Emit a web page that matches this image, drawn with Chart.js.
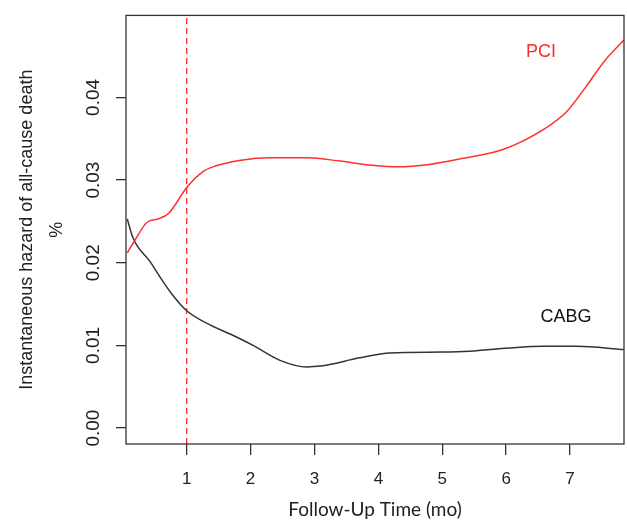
<!DOCTYPE html>
<html>
<head>
<meta charset="utf-8">
<script src="https://cdn.jsdelivr.net/npm/chart.js@4"></script>
<style>
    html, body { margin: 0; padding: 0; background: #fff; }
    #wrap { width: 627px; height: 523px; }
</style>
</head>
<body>
<div id="wrap"><canvas id="hazardChart"></canvas></div>
<script>
// Instantaneous hazard of all-cause death, PCI vs CABG
// values

const pciTime = [0.07, 0.18, 0.38, 0.55, 0.72, 1.0, 1.25, 1.45, 1.85, 2.3, 2.9, 3.4, 3.9, 4.3, 4.8, 5.3, 5.95, 6.6, 6.95, 7.25, 7.55, 7.84];
const pciHazard = [0.0212, 0.0226, 0.0249, 0.0253, 0.0260, 0.0291, 0.0310, 0.0317, 0.0324, 0.0327, 0.0327, 0.0323, 0.0318, 0.0316, 0.0319, 0.0326, 0.0337, 0.0362, 0.0383, 0.0413, 0.0445, 0.0469];

const cabgTime = [0.07, 0.16, 0.43, 0.58, 0.77, 1.0, 1.31, 1.73, 2.04, 2.46, 2.88, 3.09, 3.71, 4.18, 5.0, 5.43, 6.05, 6.6, 7.1, 7.84];
const cabgHazard = [0.0253, 0.0230, 0.0201, 0.0183, 0.0162, 0.0142, 0.0127, 0.0112, 0.0100, 0.0082, 0.0074, 0.0075, 0.0085, 0.0091, 0.0092, 0.0093, 0.0097, 0.0099, 0.0099, 0.0095];

const xTicks = [1, 2, 3, 4, 5, 6, 7];
const yTicks = [0.00, 0.01, 0.02, 0.03, 0.04];
const xRange = [0.05, 7.845];
const yRange = [-0.00192, 0.04992];
const cutoffTime = 1;

// text labels next to the curves (data coordinates)
const curveLabels = [
    { text: 'PCI', x: 6.545, y: 0.0455, color: '#ff2a2a' },
    { text: 'CABG', x: 6.936, y: 0.01345, color: '#111111' }
];

const toPoints = (xs, ys) => xs.map((x, i) => ({ x: x, y: ys[i] }));

// box around plot + curve labels
const boxPlugin = {
    id: 'boxPlugin',
    afterDraw(chart) {
        const { ctx, chartArea, scales } = chart;
        ctx.save();
        ctx.strokeStyle = '#333';
        ctx.lineWidth = 1.3;
        ctx.strokeRect(chartArea.left, chartArea.top, chartArea.right - chartArea.left, chartArea.bottom - chartArea.top);

        ctx.font = '18px "Liberation Sans", Arial, sans-serif';
        ctx.textAlign = 'center';
        ctx.textBaseline = 'middle';
        curveLabels.forEach(l => {
            ctx.fillStyle = l.color;
            ctx.fillText(l.text, scales.x.getPixelForValue(l.x), scales.y.getPixelForValue(l.y));
        });
        ctx.restore();
    }
};

const ctx = document.getElementById('hazardChart');
new Chart(ctx, {
    type: 'line',
    data: {
        datasets: [
            {
                label: 'PCI',
                data: toPoints(pciTime, pciHazard),
                borderColor: '#ff3030',
                borderWidth: 1.5,
                pointRadius: 0,
                cubicInterpolationMode: 'monotone'
            },
            {
                label: 'CABG',
                data: toPoints(cabgTime, cabgHazard),
                borderColor: '#333333',
                borderWidth: 1.5,
                pointRadius: 0,
                cubicInterpolationMode: 'monotone'
            },
            {
                label: 'cutoff',
                data: [{ x: cutoffTime, y: yRange[0] }, { x: cutoffTime, y: yRange[1] }],
                borderColor: '#ff2a2a',
                borderWidth: 1.3,
                borderDash: [6, 4],
                pointRadius: 0
            }
        ]
    },
    options: {
        responsive: true,
        maintainAspectRatio: false,
        animation: false,
        layout: { padding: { top: 12, right: 3, left: 0, bottom: 0 } },
        plugins: {
            legend: { display: false },
            tooltip: { enabled: false }
        },
        scales: {
            x: {
                type: 'linear',
                min: xRange[0],
                max: xRange[1],
                afterBuildTicks: s => { s.ticks = xTicks.map(v => ({ value: v })); },
                afterFit: s => { s.height = 79; },
                border: { display: false },
                grid: { drawOnChartArea: false, drawTicks: true, tickLength: 11, color: '#333', lineWidth: 1.3 },
                ticks: {
                    color: '#222',
                    padding: 14,
                    maxRotation: 0,
                    font: { family: '"Liberation Sans", Arial, sans-serif', size: 17 }
                },
                title: {
                    display: true,
                    text: 'Follow-Up Time (mo)',
                    color: '#222',
                    padding: { top: 0, bottom: 2 },
                    font: { family: 'Lato, "Open Sans", sans-serif', size: 19 }
                }
            },
            y: {
                type: 'linear',
                min: yRange[0],
                max: yRange[1],
                afterBuildTicks: s => { s.ticks = yTicks.map(v => ({ value: v })); },
                afterFit: s => { s.width = 126; },
                border: { display: false },
                grid: { drawOnChartArea: false, drawTicks: true, tickLength: 10, color: '#333', lineWidth: 1.3 },
                ticks: {
                    color: '#222',
                    padding: 4,
                    minRotation: 90,
                    maxRotation: 90,
                    crossAlign: 'center',
                    callback: v => v.toFixed(2),
                    font: { family: '"Liberation Sans", Arial, sans-serif', size: 19 }
                },
                title: {
                    display: true,
                    text: ['Instantaneous hazard of all-cause death', '%'],
                    color: '#222',
                    padding: { top: 12, bottom: 0 },
                    font: { family: '"Liberation Sans", Arial, sans-serif', size: 18, lineHeight: 1.667 }
                }
            }
        }
    },
    plugins: [boxPlugin]
});
</script>
</body>
</html>
